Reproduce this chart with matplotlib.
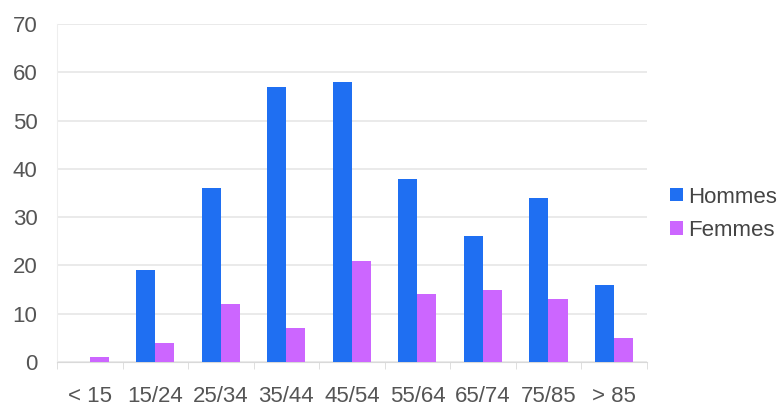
import matplotlib.pyplot as plt
import numpy as np

# data
categories = ['< 15', '15/24', '25/34', '35/44', '45/54', '55/64', '65/74', '75/85', '> 85']
hommes = [0, 19, 36, 57, 58, 38, 26, 34, 16]
femmes = [1, 4, 12, 7, 21, 14, 15, 13, 5]

plt.rcParams['font.family'] = ['Liberation Sans', 'DejaVu Sans']

fig = plt.figure(figsize=(7.84, 4.07), dpi=100)
ax = fig.add_axes([0.0727, 0.1106, 0.7523, 0.8304])

x = np.arange(len(categories))
w = 0.29
ax.bar(x - w / 2, hommes, w, color='#1f6ff2', label='Hommes', zorder=3)
ax.bar(x + w / 2, femmes, w, color='#cc66ff', label='Femmes', zorder=3)

ax.set_xlim(-0.5, len(categories) - 0.5)
ax.set_ylim(0, 70)
ax.set_yticks(range(0, 71, 10))
ax.yaxis.grid(True, color='#e6e6e6', linewidth=1.2, zorder=0)

ax.set_xticks(x)
ax.set_xticklabels(categories)
ax.set_xticks(np.arange(-0.5, len(categories)), minor=True)
ax.tick_params(axis='x', which='major', length=0, pad=17)
ax.tick_params(axis='x', which='minor', length=5, color='#d9d9d9')
ax.tick_params(axis='y', length=0, pad=14)
ax.tick_params(labelsize=16, labelcolor='#555555')

for s in ['top', 'right']:
    ax.spines[s].set_visible(False)
ax.spines['left'].set_color('#eeeeee')
ax.spines['bottom'].set_color('#d9d9d9')

leg = fig.legend(loc='center left', bbox_to_anchor=(0.855, 0.475), frameon=False,
                 fontsize=16, handlelength=0.55, handleheight=0.55,
                 handletextpad=0.25, labelspacing=0.55, borderaxespad=0,
                 borderpad=0)
for t in leg.get_texts():
    t.set_color('#444444')

fig.savefig('out.png', dpi=100)
